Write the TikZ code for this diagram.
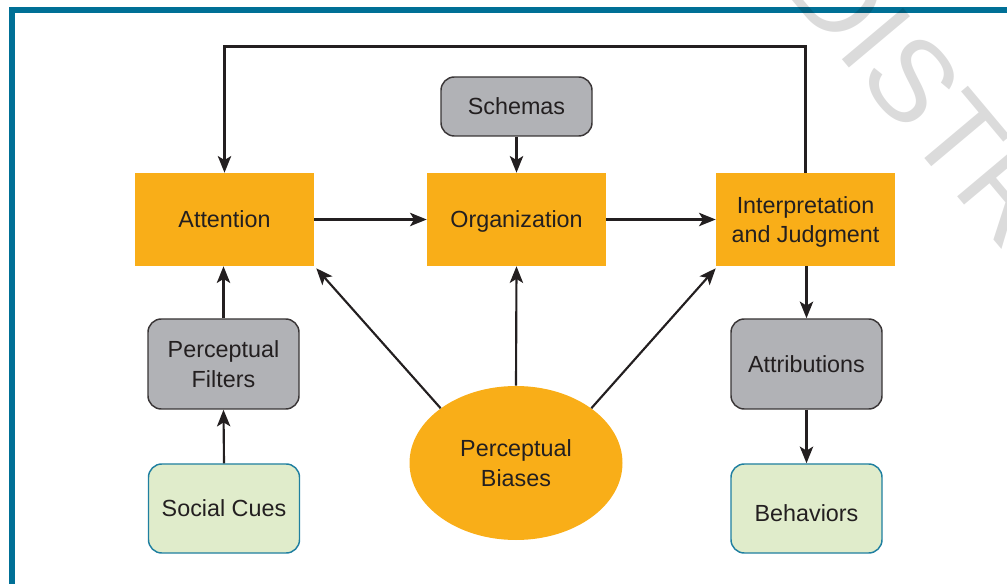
\documentclass[tikz,border=0pt]{standalone}
\usepackage{fontspec}
\setmainfont{Liberation Sans}
\usetikzlibrary{arrows.meta,shapes.geometric}
\definecolor{frameblue}{RGB}{0,112,150}
\definecolor{boxorange}{RGB}{249,174,24}
\definecolor{boxgray}{RGB}{177,178,182}
\definecolor{boxgreen}{RGB}{224,236,203}
\definecolor{greenline}{RGB}{31,127,160}
\definecolor{txt}{RGB}{35,31,32}
\begin{document}
\begin{tikzpicture}[x=0.75pt,y=-0.75pt,
  lbl/.style={text=txt,font=\fontsize{17.5}{22}\selectfont,align=center,inner sep=0pt},
  mainbox/.style={lbl,rectangle,fill=boxorange,minimum width=134.25pt,minimum height=69.75pt,text depth=0pt},
  graybox/.style={lbl,rectangle,rounded corners=10pt,fill=boxgray,draw=txt!90,line width=1.1pt,minimum width=113.25pt,minimum height=67.5pt},
  greenbox/.style={lbl,rectangle,rounded corners=10pt,fill=boxgreen,draw=greenline,line width=1.1pt,minimum width=113.25pt,minimum height=66.75pt},
  biasnode/.style={lbl,ellipse,fill=boxorange,minimum width=159.75pt,minimum height=115.5pt},
  arr/.style={draw=txt,line width=1.6pt,-{Stealth[length=12.5pt,width=10pt,inset=3pt]}},
  wmtext/.style={text=black,opacity=0.14,font=\fontsize{87}{87}\selectfont,inner sep=0pt}]
\useasboundingbox (0,0) rectangle (1007,584);
\clip (0,0) rectangle (1007,584);
% frame
\draw[frameblue,line width=4.2pt,line join=miter] (12.2,600) -- (12.2,10) -- (1020,10);
% nodes
\node[mainbox] (att) at (224.5,219.5) {Attention};
\node[mainbox] (org) at (516.5,219.5) {Organization};
\node[mainbox] (interp) at (805.5,219.5) {Interpretation\\and Judgment};
\node[graybox,minimum height=44.25pt] (sch) at (516.5,106.5) {Schemas};
\node[graybox] (filt) at (223.5,364) {Perceptual\\Filters};
\node[greenbox] (cues) at (224,508.5) {Social Cues};
\node[graybox] (attr) at (806.5,364) {Attributions};
\node[greenbox] (beh) at (806.5,508.5) {\raisebox{-10pt}[0pt][0pt]{Behaviors}};
\node[biasnode] (pb) at (516,463) {Perceptual\\Biases};
\coordinate (loop) at (516,46.5);
% connectors
\draw[arr] (interp.north) |- (loop) -| (att.north);
\draw[arr] (att.east) -- (org.west);
\draw[arr] (org.east) -- (interp.west);
\draw[arr] (sch.south) -- (org.north);
\draw[arr] (filt.north) -- (filt.north |- att.south);
\draw[arr] (cues.north) -- (filt.south);
\draw[arr] (interp.south -| attr.north) -- (attr.north);
\draw[arr] (attr.south) -- (beh.north);
\draw[arr] (pb.144) -- ([shift={(2,2)}]att.south east);
\draw[arr] (pb.north) -- (org.south);
\draw[arr] (pb.36) -- ([shift={(0,2)}]interp.south west);
% watermark
\node[wmtext,rotate=-50,anchor=center] (wm) at (924,95) {DISTR};
\end{tikzpicture}
\end{document}
